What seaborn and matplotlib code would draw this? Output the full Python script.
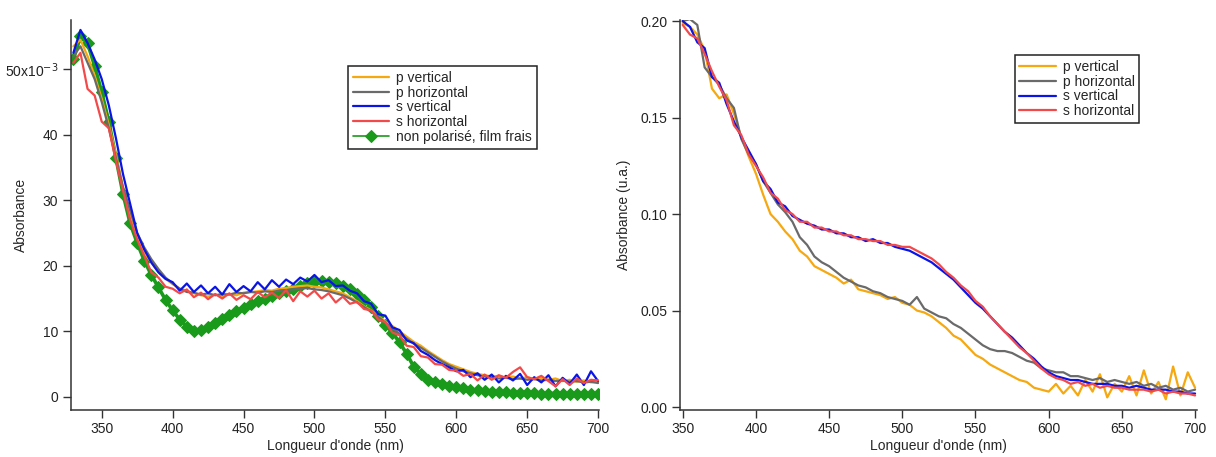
import numpy as np
import pandas as pd
import seaborn as sns
import matplotlib.pyplot as plt

# Wavelengths (nm)
wl_left = [330, 335, 340, 345, 350, 355, 360, 365, 370, 375,
           380, 385, 390, 395, 400, 405, 410, 415, 420, 425,
           430, 435, 440, 445, 450, 455, 460, 465, 470, 475,
           480, 485, 490, 495, 500, 505, 510, 515, 520, 525,
           530, 535, 540, 545, 550, 555, 560, 565, 570, 575,
           580, 585, 590, 595, 600, 605, 610, 615, 620, 625,
           630, 635, 640, 645, 650, 655, 660, 665, 670, 675,
           680, 685, 690, 695, 700]
wl_right = wl_left[4:]

# Left panel, absorbance in units of 1e-3
p_vert_l = [53.5, 54.5, 52.0, 49.0, 45.5, 41.5, 37.0, 32.0, 28.0, 24.5,
            22.0, 20.5, 19.0, 18.0, 17.2, 16.5, 16.2, 15.8, 15.5, 15.3,
            15.6, 15.4, 15.7, 15.5, 15.9, 16.0, 16.1, 16.3, 16.2, 16.5,
            16.6, 16.8, 16.9, 17.0, 16.8, 16.7, 16.4, 16.1, 15.8, 15.2,
            14.6, 13.8, 13.2, 12.3, 11.5, 10.8, 10.0, 9.2, 8.4, 7.8,
            7.0, 6.3, 5.6, 5.0, 4.6, 4.2, 3.8, 3.5, 3.3, 3.1,
            3.2, 2.9, 3.1, 2.8, 3.0, 2.7, 2.9, 2.6, 2.8, 2.4,
            2.6, 2.3, 2.5, 2.2, 2.3]
p_horiz_l = [52.0, 53.5, 51.0, 48.5, 45.0, 41.0, 36.5, 32.0, 28.5, 25.0,
             22.8, 21.0, 19.5, 18.2, 17.3, 16.5, 16.0, 15.9, 15.6, 15.8,
             15.5, 15.7, 15.6, 15.9, 15.8, 16.0, 15.9, 16.1, 16.0, 16.2,
             16.3, 16.4, 16.5, 16.6, 16.4, 16.3, 16.1, 15.8, 15.5, 15.0,
             14.4, 13.7, 13.0, 12.2, 11.3, 10.5, 9.6, 8.9, 8.1, 7.5,
             6.8, 6.1, 5.4, 4.8, 4.3, 3.9, 3.6, 3.3, 3.1, 3.0,
             2.8, 2.9, 2.7, 2.8, 2.6, 2.7, 2.5, 2.6, 2.4, 2.5,
             2.3, 2.4, 2.2, 2.3, 2.1]
s_vert_l = [52.5, 56.0, 54.0, 51.5, 48.5, 44.5, 39.5, 34.0, 29.5, 25.0,
            22.5, 20.5, 19.0, 18.0, 17.5, 16.2, 17.3, 16.0, 17.0, 15.8,
            16.8, 15.6, 17.2, 16.0, 16.9, 16.1, 17.5, 16.4, 17.8, 16.8,
            17.9, 17.2, 18.2, 17.6, 18.6, 17.5, 17.8, 16.9, 17.0, 16.2,
            15.8, 14.6, 14.2, 12.6, 12.4, 10.6, 10.2, 8.6, 8.2, 7.0,
            6.4, 5.6, 5.0, 4.5, 3.9, 4.1, 3.0, 3.6, 2.6, 3.4,
            2.2, 3.2, 2.5, 3.5, 1.8, 3.0, 2.2, 3.3, 1.6, 2.9,
            2.0, 3.4, 1.8, 3.9, 2.4]
s_horiz_l = [51.0, 52.5, 47.0, 46.0, 42.0, 41.0, 36.0, 31.5, 27.0, 24.0,
             21.5, 19.0, 18.2, 16.8, 16.5, 15.8, 16.4, 15.2, 15.9, 14.9,
             15.7, 15.0, 15.8, 14.8, 15.5, 14.9, 16.0, 15.2, 15.9, 15.1,
             16.3, 14.6, 16.1, 15.3, 16.2, 15.0, 15.8, 14.4, 15.3, 14.2,
             14.5, 13.4, 13.2, 11.8, 11.4, 9.8, 9.4, 7.8, 7.6, 6.2,
             6.0, 5.0, 4.9, 4.1, 4.0, 3.2, 3.5, 2.5, 3.4, 2.6,
             3.3, 2.9, 3.8, 4.5, 3.0, 2.7, 3.2, 2.4, 1.6, 2.7,
             1.8, 2.8, 2.1, 2.6, 2.5]
non_pol_l = [51.5, 55.0, 54.0, 50.5, 46.5, 42.0, 36.5, 31.0, 26.5, 23.5,
             20.8, 18.6, 16.7, 14.8, 13.2, 11.8, 10.7, 10.0, 10.2, 10.7,
             11.3, 11.9, 12.5, 13.1, 13.6, 14.1, 14.6, 15.0, 15.4, 15.8,
             16.1, 16.5, 16.9, 17.3, 17.6, 17.7, 17.6, 17.3, 16.9, 16.4,
             15.7, 14.8, 13.7, 12.3, 11.0, 9.8, 8.3, 6.6, 4.6, 3.5,
             2.6, 2.2, 1.9, 1.7, 1.5, 1.3, 1.1, 1.0, 0.9, 0.8,
             0.75, 0.7, 0.65, 0.6, 0.6, 0.55, 0.5, 0.5, 0.5, 0.45,
             0.45, 0.4, 0.4, 0.4, 0.4]

# Right panel, absorbance (u.a.)
p_vert_r = [.199, .197, .193, .185, .165, .160, .162, .152, .140, .130,
            .121, .110, .100, .096, .091, .087, .081, .078, .073, .071,
            .069, .067, .064, .066, .061, .060, .059, .058, .056, .057,
            .054, .053, .050, .049, .047, .044, .041, .037, .035, .031,
            .027, .025, .022, .020, .018, .016, .014, .013, .010, .009,
            .008, .012, .007, .011, .006, .014, .008, .017, .005, .012,
            .008, .016, .006, .019, .007, .013, .004, .021, .006, .018,
            .010]
p_horiz_r = [.200, .201, .198, .176, .171, .167, .160, .155, .139, .131,
             .126, .117, .111, .105, .101, .096, .088, .084, .078, .075,
             .073, .070, .067, .065, .063, .062, .060, .059, .057, .056,
             .055, .053, .057, .051, .049, .047, .046, .043, .041, .038,
             .035, .032, .030, .029, .029, .028, .026, .024, .023, .020,
             .019, .018, .018, .016, .016, .015, .014, .015, .013, .014,
             .013, .012, .013, .011, .012, .010, .011, .009, .010, .008,
             .009]
s_vert_r = [.200, .197, .189, .186, .171, .168, .157, .148, .140, .133,
            .126, .117, .113, .106, .104, .099, .097, .095, .094, .092,
            .092, .090, .090, .088, .088, .086, .087, .085, .085, .083,
            .082, .081, .079, .077, .075, .072, .069, .066, .062, .058,
            .054, .051, .047, .043, .039, .036, .032, .028, .025, .021,
            .018, .016, .015, .014, .014, .013, .012, .012, .012, .011,
            .011, .010, .011, .010, .009, .009, .009, .008, .008, .007,
            .007]
s_horiz_r = [.198, .193, .191, .183, .174, .166, .159, .146, .141, .131,
             .125, .119, .111, .108, .102, .100, .096, .096, .093, .093,
             .091, .091, .089, .089, .087, .087, .086, .086, .084, .084,
             .083, .083, .081, .079, .077, .074, .070, .067, .063, .060,
             .055, .052, .047, .043, .039, .035, .031, .028, .024, .020,
             .017, .015, .014, .012, .013, .011, .012, .010, .011, .010,
             .010, .009, .009, .009, .008, .009, .007, .008, .007, .007,
             .006]

c_orange = '#f5a810'
c_gray = '#6a6a6a'
c_blue = '#0a14e6'
c_red = '#f24a4a'
c_green = '#1a9a1a'

sns.set_style("ticks")
plt.rcParams['font.family'] = ['Liberation Sans', 'DejaVu Sans']
plt.rcParams['axes.edgecolor'] = '#333333'
plt.rcParams['xtick.color'] = '#333333'
plt.rcParams['ytick.color'] = '#333333'
plt.rcParams['xtick.labelcolor'] = '#222222'
plt.rcParams['ytick.labelcolor'] = '#222222'

fig = plt.figure(figsize=(12.16, 4.57), dpi=100)
ax1 = fig.add_axes([0.058, 0.103, 0.435, 0.853])
ax2 = fig.add_axes([0.559, 0.103, 0.425, 0.853])

lw = 1.6
sns.lineplot(x=wl_left, y=non_pol_l, ax=ax1, color=c_green, lw=2.6, marker='D',
             markersize=6, markeredgecolor=c_green, label='non polarisé, film frais')
sns.lineplot(x=wl_left, y=p_vert_l, ax=ax1, color=c_orange, lw=lw, label='p vertical')
sns.lineplot(x=wl_left, y=p_horiz_l, ax=ax1, color=c_gray, lw=lw, label='p horizontal')
sns.lineplot(x=wl_left, y=s_vert_l, ax=ax1, color=c_blue, lw=lw, label='s vertical')
sns.lineplot(x=wl_left, y=s_horiz_l, ax=ax1, color=c_red, lw=lw, label='s horizontal')

sns.lineplot(x=wl_right, y=p_vert_r, ax=ax2, color=c_orange, lw=lw, label='p vertical')
sns.lineplot(x=wl_right, y=p_horiz_r, ax=ax2, color=c_gray, lw=lw, label='p horizontal')
sns.lineplot(x=wl_right, y=s_vert_r, ax=ax2, color=c_blue, lw=lw, label='s vertical')
sns.lineplot(x=wl_right, y=s_horiz_r, ax=ax2, color=c_red, lw=lw, label='s horizontal')

ax1.set_xlim(328, 701)
ax1.set_ylim(-2.0, 57.5)
ax1.set_xticks([350, 400, 450, 500, 550, 600, 650, 700])
ax1.set_yticks([0, 10, 20, 30, 40, 50])
ax1.set_yticklabels(['0', '10', '20', '30', '40', '50x10$^{-3}$'])

ax2.set_xlim(348, 701)
ax2.set_ylim(-0.0015, 0.2005)
ax2.set_xticks([350, 400, 450, 500, 550, 600, 650, 700])
ax2.set_yticks([0.0, 0.05, 0.10, 0.15, 0.20])
ax2.set_yticklabels(['0.00', '0.05', '0.10', '0.15', '0.20'])

for ax, ylab in [(ax1, 'Absorbance'), (ax2, 'Absorbance (u.a.)')]:
    sns.despine(ax=ax)
    ax.tick_params(direction='out', length=6, width=1, labelsize=10, pad=3)
    ax.set_xlabel("Longueur d'onde (nm)", fontsize=10, labelpad=2)
    ax.set_ylabel(ylab, fontsize=10)
    for sp in ax.spines.values():
        sp.set_linewidth(1.1)
ax1.yaxis.set_label_coords(-0.08, 0.5)
ax2.yaxis.set_label_coords(-0.095, 0.5)

# legend order as in the reference
leg_kw = dict(loc='upper left', frameon=True, fancybox=False, framealpha=1,
              edgecolor='#222222', fontsize=10, handlelength=2.6,
              labelspacing=0.05, borderpad=0.35, handletextpad=0.5,
              borderaxespad=0)
h1, t1 = ax1.get_legend_handles_labels()
h1 = h1[1:] + h1[:1]
t1 = t1[1:] + t1[:1]
l1 = ax1.legend(h1, t1, bbox_to_anchor=(0.525, 0.882), **leg_kw)
l2 = ax2.legend(bbox_to_anchor=(0.648, 0.91), **leg_kw)
l1.get_lines()[-1].set_linewidth(1.2)
for leg in (l1, l2):
    leg.get_frame().set_linewidth(1.1)

fig.savefig("out.png", dpi=100)
